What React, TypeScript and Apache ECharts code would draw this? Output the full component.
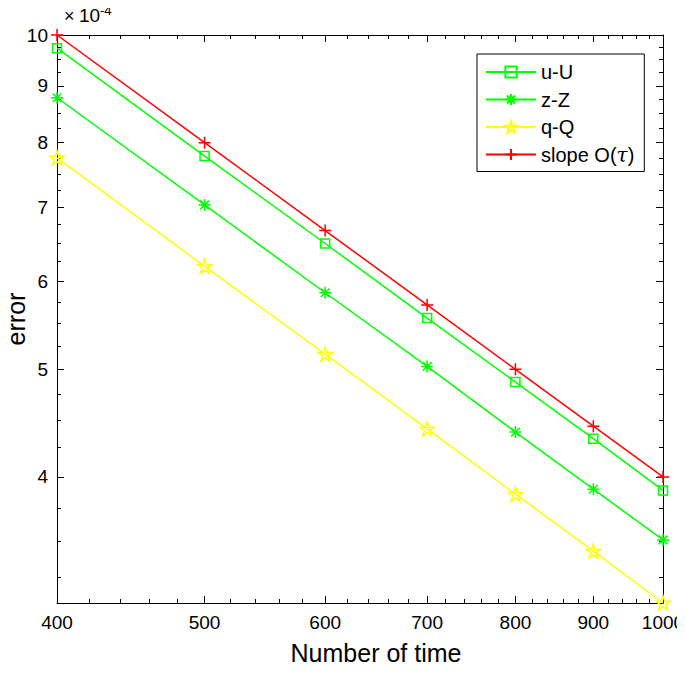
import React, { useEffect, useRef } from "react";
import * as echarts from "echarts";

// Number of time steps (x) and errors in units of 1e-4 (y)
const steps = [400, 500, 600, 700, 800, 900, 1000];
const errU = [9.73, 7.78, 6.49, 5.56, 4.87, 4.33, 3.89];
const errZ = [8.78, 7.03, 5.86, 5.03, 4.39, 3.9, 3.51];
const errQ = [7.75, 6.19, 5.16, 4.42, 3.86, 3.43, 3.08];
const slopeRef = [10, 8, 6.667, 5.714, 5, 4.444, 4];

const xMajor = [400, 500, 600, 700, 800, 900, 1000];
const xMinor = [
  420, 440, 460, 480, 520, 540, 560, 580, 620, 640, 660, 680, 720, 740, 760, 780,
  820, 840, 860, 880, 920, 940, 960, 980,
];
const yMajor = [4, 5, 6, 7, 8, 9, 10];
const yMinor = [
  3.25, 3.5, 3.75, 4.25, 4.5, 4.75, 5.25, 5.5, 5.75, 6.25, 6.5, 6.75, 7.25, 7.5,
  7.75, 8.25, 8.5, 8.75, 9.25, 9.5, 9.75,
];

const FONT = "'Liberation Sans', Arial, Helvetica, sans-serif";
const lg = (v: number) => Math.log10(v);

const PLUS = "path://M0,-1L0,1M-1,0L1,0";
const ASTER = "path://M0,-1L0,1M-1,0L1,0M-0.72,-0.72L0.72,0.72M-0.72,0.72L0.72,-0.72";
const SQUARE = "path://M-1,-1L1,-1L1,1L-1,1Z";
const STAR =
  "path://M0,-1L0.2245,-0.309L0.951,-0.309L0.363,0.118L0.588,0.809L0,0.382L-0.588,0.809L-0.363,0.118L-0.951,-0.309L-0.2245,-0.309Z";

export default function App() {
  const ref = useRef<HTMLDivElement>(null);
  useEffect(() => {
    if (!ref.current) return;
    const chart = echarts.init(ref.current, null, { renderer: "svg" });

    const xMin = lg(xMajor[0]) - 1e-9;
    const xMax = lg(xMajor[xMajor.length - 1]) + 1e-9;
    const yMin = lg(Math.min(...errQ)) - 1e-9;
    const yMax = lg(Math.max(...slopeRef)) + 1e-9;

    const axisLine = { show: true, lineStyle: { color: "#000", width: 1 } };

    const mkX = (position: string, major: boolean, withLabels: boolean) => ({
      type: "value",
      position,
      min: xMin,
      max: xMax,
      gridIndex: 0,
      splitLine: { show: false },
      axisLine: { ...axisLine, show: major },
      axisTick: {
        show: true,
        inside: true,
        length: major ? 7 : 4,
        lineStyle: { color: "#000", width: 1 },
        customValues: (major ? xMajor : xMinor).map(lg),
      },
      axisLabel: withLabels
        ? {
            show: true,
            customValues: xMajor.map(lg),
            formatter: (v: number) => String(Math.round(Math.pow(10, v))),
            color: "#000",
            fontSize: 19,
            fontFamily: FONT,
            margin: 10,
          }
        : { show: false },
      ...(withLabels
        ? {
            name: "Number of time",
            nameLocation: "middle",
            nameGap: 37,
            nameMoveOverlap: false,
            nameTextStyle: {
              fontSize: 25,
              color: "#000",
              fontFamily: FONT,
              padding: [0, 0, 0, 32],
            },
          }
        : {}),
    });

    const mkY = (position: string, major: boolean, withLabels: boolean) => ({
      type: "value",
      position,
      min: yMin,
      max: yMax,
      gridIndex: 0,
      splitLine: { show: false },
      axisLine: { ...axisLine, show: major },
      axisTick: {
        show: true,
        inside: true,
        length: major ? 7 : 4,
        lineStyle: { color: "#000", width: 1 },
        customValues: (major ? yMajor : yMinor).map(lg),
      },
      axisLabel: withLabels
        ? {
            show: true,
            customValues: yMajor.map(lg),
            formatter: (v: number) => String(Math.round(Math.pow(10, v))),
            color: "#000",
            fontSize: 19,
            fontFamily: FONT,
            margin: 9,
          }
        : { show: false },
      ...(withLabels
        ? {
            name: "error",
            nameLocation: "middle",
            nameGap: 29,
            nameMoveOverlap: false,
            nameTextStyle: { fontSize: 25, color: "#000", fontFamily: FONT },
          }
        : {}),
    });

    const mkSeries = (
      name: string,
      vals: number[],
      color: string,
      symbol: string,
      size: number
    ) => ({
      name,
      type: "line",
      xAxisIndex: 0,
      yAxisIndex: 0,
      data: steps.map((s, i) => [lg(s), lg(vals[i])]),
      symbol,
      symbolSize: size,
      showSymbol: true,
      clip: false,
      lineStyle: { color, width: 1.5 },
      itemStyle: { color: "rgba(0,0,0,0)", borderColor: color, borderWidth: 1.5 },
      emphasis: { disabled: true },
    });

    chart.setOption({
      animation: false,
      backgroundColor: "#fff",
      grid: {
        left: 57,
        right: 22,
        top: 35,
        bottom: 70,
        containLabel: false,
        outerBoundsMode: "none",
      },
      xAxis: [
        mkX("bottom", true, true),
        mkX("bottom", false, false),
        mkX("top", true, false),
        mkX("top", false, false),
      ],
      yAxis: [
        mkY("left", true, true),
        mkY("left", false, false),
        mkY("right", true, false),
        mkY("right", false, false),
      ],
      legend: {
        show: true,
        orient: "vertical",
        left: 477,
        top: 54,
        itemWidth: 50,
        itemHeight: 14,
        itemGap: 7.5,
        padding: [8, 10, 7, 8],
        borderColor: "#000",
        borderWidth: 1,
        backgroundColor: "#fff",
        textStyle: {
          color: "#000",
          fontSize: 20,
          fontFamily: FONT,
          rich: {
            t: {
              fontSize: 20,
              fontStyle: "italic",
              fontFamily: "'DejaVu Serif', serif",
              color: "#000",
            },
          },
        },
        formatter: (n: string) => (n === "slope O(τ)" ? "slope O({t|τ})" : n),
        data: ["u-U", "z-Z", "q-Q", "slope O(τ)"],
      },
      graphic: [
        {
          type: "text",
          x: 64,
          y: 25,
          style: {
            text: "×",
            fontSize: 18,
            fontFamily: FONT,
            fill: "#000",
            verticalAlign: "bottom",
          },
        },
        {
          type: "text",
          x: 79,
          y: 25,
          style: {
            text: "10",
            fontSize: 19,
            fontFamily: FONT,
            fill: "#000",
            verticalAlign: "bottom",
          },
        },
        {
          type: "text",
          x: 100,
          y: 17,
          style: {
            text: "-4",
            fontSize: 13,
            fontFamily: FONT,
            fill: "#000",
            verticalAlign: "bottom",
          },
        },
      ],
      series: [
        mkSeries("u-U", errU, "#00ff00", SQUARE, 9),
        mkSeries("z-Z", errZ, "#00ff00", ASTER, 12),
        mkSeries("q-Q", errQ, "#ffff00", STAR, 14),
        mkSeries("slope O(τ)", slopeRef, "#ff0000", PLUS, 12),
      ],
    });

    return () => chart.dispose();
  }, []);

  return <div ref={ref} style={{ width: 685, height: 673, margin: -8 }} />;
}
